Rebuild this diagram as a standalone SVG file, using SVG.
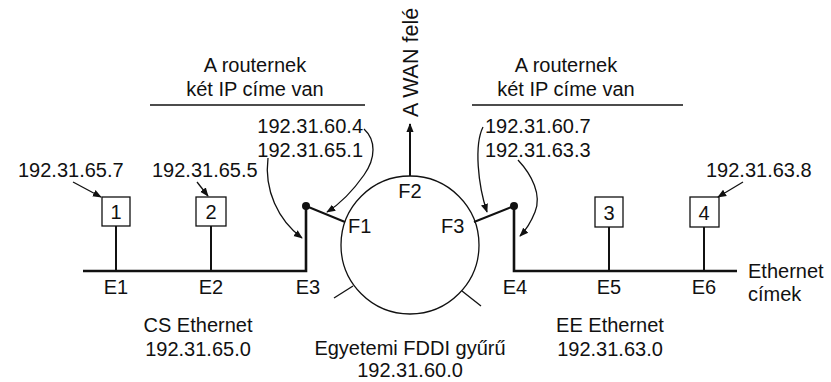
<svg xmlns="http://www.w3.org/2000/svg" width="831" height="382" viewBox="0 0 831 382">
<style>
text{font-family:"Liberation Sans",Arial,sans-serif;font-size:20px;fill:#111}
.m{text-anchor:middle}
.e{text-anchor:end}
.box{fill:#fff;stroke:#111;stroke-width:1.3}
.eth{fill:none;stroke:#111;stroke-width:2.6}
.thin{fill:none;stroke:#111;stroke-width:1.3}
.arr{fill:none;stroke:#111;stroke-width:1.3;marker-end:url(#ah)}
</style>
<defs>
<marker id="ah" viewBox="0 0 10 10" refX="9" refY="5" markerWidth="9" markerHeight="9" markerUnits="userSpaceOnUse" orient="auto">
<path d="M0,1 L10,5 L0,9 Z" fill="#111"/>
</marker>
</defs>
<g id="labels-top">
<text class="m" x="255" y="72">A routernek</text>
<text class="m" x="255" y="96">két IP címe van</text>
<line class="thin" x1="150" y1="105" x2="365" y2="105"/>
<text class="m" x="566" y="72">A routernek</text>
<text class="m" x="566" y="96">két IP címe van</text>
<line class="thin" x1="472" y1="105" x2="683" y2="105"/>
<text class="e" x="363" y="133">192.31.60.4</text>
<text class="e" x="363" y="157">192.31.65.1</text>
<text x="485" y="133">192.31.60.7</text>
<text x="485" y="157">192.31.63.3</text>
<text x="18" y="177">192.31.65.7</text>
<text x="152" y="177">192.31.65.5</text>
<text x="706" y="177">192.31.63.8</text>
</g>
<g id="wan">
<text transform="translate(418,117) rotate(-90)" style="font-size:21.5px">A WAN felé</text>
</g>
<g id="fddi">
<circle class="thin" cx="410" cy="245" r="69"/>
<line class="thin" x1="334" y1="298" x2="353" y2="286"/>
<line class="thin" x1="462" y1="291" x2="481" y2="306"/>
<text class="m" x="410" y="198">F2</text>
<text x="348" y="233">F1</text>
<text x="441" y="233">F3</text>
<text class="m" x="410" y="355">Egyetemi FDDI gyűrű</text>
<text class="m" x="410" y="377">192.31.60.0</text>
</g>
<g id="cs-ethernet">
<polyline class="eth" points="83,271 306,271 306,206"/>
<line class="eth" x1="306" y1="206" x2="345" y2="222" style="stroke-width:2"/>
<circle cx="306" cy="206" r="4" fill="#111"/>
<line class="eth" x1="116" y1="226" x2="116" y2="271" style="stroke-width:2"/>
<line class="eth" x1="211" y1="226" x2="211" y2="271" style="stroke-width:2"/>
<text class="m" x="116" y="294">E1</text>
<text class="m" x="211" y="294">E2</text>
<text class="m" x="308" y="294">E3</text>
<text class="m" x="198" y="332">CS Ethernet</text>
<text class="m" x="198" y="356">192.31.65.0</text>
</g>
<g id="host1"><rect class="box" x="102" y="197" width="28" height="29"/><text class="m" x="116" y="219">1</text></g>
<g id="host2"><rect class="box" x="196" y="197" width="30" height="29"/><text class="m" x="211" y="219">2</text></g>
<g id="ee-ethernet">
<polyline class="eth" points="514,206 514,271 737,271"/>
<line class="eth" x1="514" y1="206" x2="474" y2="222" style="stroke-width:2"/>
<circle cx="514" cy="206" r="4" fill="#111"/>
<line class="eth" x1="609" y1="227" x2="609" y2="271" style="stroke-width:2"/>
<line class="eth" x1="704" y1="227" x2="704" y2="271" style="stroke-width:2"/>
<text class="m" x="515" y="294">E4</text>
<text class="m" x="609" y="294">E5</text>
<text class="m" x="704" y="294">E6</text>
<text x="748" y="278">Ethernet</text>
<text x="748" y="301">címek</text>
<text class="m" x="610" y="332">EE Ethernet</text>
<text class="m" x="610" y="356">192.31.63.0</text>
</g>
<g id="host3"><rect class="box" x="595" y="197" width="28" height="30"/><text class="m" x="609" y="220">3</text></g>
<g id="host4"><rect class="box" x="690" y="197" width="29" height="30"/><text class="m" x="704" y="220">4</text></g>
<g id="connectors">
<line class="arr" x1="410" y1="176" x2="410" y2="124" style="stroke-width:2"/>
<line class="arr" x1="73" y1="182" x2="101" y2="197"/>
<line class="arr" x1="197" y1="182" x2="208" y2="196"/>
<line class="arr" x1="743" y1="182" x2="718" y2="197"/>
<path class="arr" d="M364,129 C376,140 376,158 364,175 C352,192 340,204 327,212"/>
<path class="arr" d="M268,158 C264,190 278,220 302,238"/>
<path class="arr" d="M483,127 C474,145 478,185 487,212"/>
<path class="arr" d="M518,160 C532,175 542,195 535,212 C531,222 526,230 520,236"/>
</g>
</svg>
